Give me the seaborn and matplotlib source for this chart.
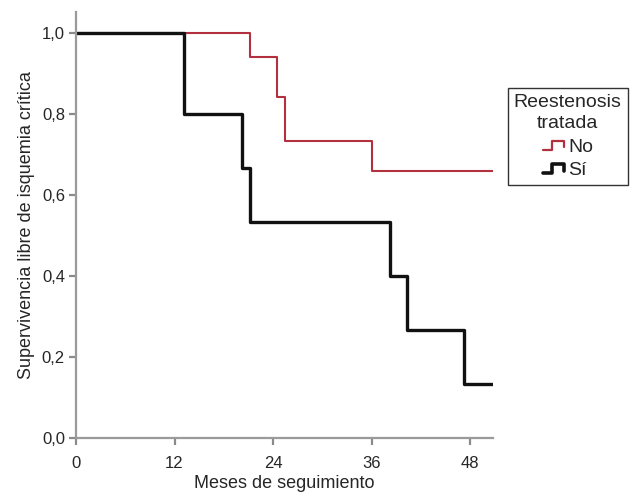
import matplotlib
matplotlib.use('Agg')
import matplotlib.pyplot as plt
from matplotlib.legend_handler import HandlerBase
from matplotlib.lines import Line2D
import seaborn as sns
import pandas as pd

# Kaplan-Meier steps
no_time = [0, 21.2, 24.5, 25.4, 36.1, 50.8]
no_surv = [1.0, 0.941, 0.842, 0.733, 0.659, 0.659]
si_time = [0, 13.2, 20.2, 21.2, 38.3, 40.3, 47.3, 50.8]
si_surv = [1.0, 0.8, 0.667, 0.533, 0.4, 0.267, 0.133, 0.133]
groups = ["No", "Sí"]
x_ticks = [0, 12, 24, 36, 48]
y_ticks = [0.0, 0.2, 0.4, 0.6, 0.8, 1.0]

RED = '#b3303f'
BLACK = '#111111'

sns.set_theme(style='white')
plt.rcParams['font.family'] = ['Liberation Sans', 'DejaVu Sans']

df = pd.concat([
    pd.DataFrame({'t': no_time, 's': no_surv, 'grupo': groups[0]}),
    pd.DataFrame({'t': si_time, 's': si_surv, 'grupo': groups[1]}),
], ignore_index=True)


class StepHandler(HandlerBase):
    """Small step-shaped legend icon, like the SPSS survival legend."""
    def create_artists(self, legend, orig_handle, xd, yd, w, h, fontsize, trans):
        xs = [xd, xd + 0.45 * w, xd + 0.45 * w, xd + w, xd + w]
        ys = [yd + 0.15 * h, yd + 0.15 * h, yd + 0.8 * h, yd + 0.8 * h, yd + 0.35 * h]
        ln = Line2D(xs, ys, color=orig_handle.get_color(),
                    linewidth=orig_handle.get_linewidth(), transform=trans)
        return [ln]


fig = plt.figure(figsize=(6.38, 4.93), dpi=100)
ax = fig.add_axes([76 / 638, 1 - 438 / 493, (493 - 76) / 638, (438 - 12) / 493])

sns.lineplot(data=df, x='t', y='s', hue='grupo', palette={groups[0]: RED, groups[1]: BLACK},
             estimator=None, sort=False, drawstyle='steps-post', ax=ax, legend=False)
ax.lines[0].set_linewidth(1.5)
ax.lines[1].set_linewidth(2.4)

ax.set_xlim(0, 50.8)
ax.set_ylim(0, 1.052)
ax.set_xticks(x_ticks)
ax.set_xticklabels([str(v) for v in x_ticks], fontsize=12)
ax.set_yticks(y_ticks)
ax.set_yticklabels([f'{v:.1f}'.replace('.', ',') for v in y_ticks], fontsize=12)
ax.set_xlabel('Meses de seguimiento', fontsize=13, labelpad=3)
ax.set_ylabel('Supervivencia libre de isquemia crítica', fontsize=13, labelpad=5)

for side in ['top', 'right']:
    ax.spines[side].set_visible(False)
for side in ['left', 'bottom']:
    ax.spines[side].set_color('#9a9a9a')
    ax.spines[side].set_linewidth(1.6)
ax.tick_params(axis='both', which='major', direction='out', length=5, width=1.6,
               color='#8a8a8a', left=True, bottom=True, pad=3)
ax.tick_params(axis='x', pad=8)

handles = [Line2D([], [], color=RED, linewidth=1.6), Line2D([], [], color=BLACK, linewidth=2.6)]
leg = fig.legend(handles, groups, title='Reestenosis\ntratada', loc='upper left',
                 bbox_to_anchor=(508 / 638, 1 - 88 / 493), bbox_transform=fig.transFigure,
                 borderaxespad=0, fontsize=14, title_fontsize=14, frameon=True, fancybox=False,
                 handler_map={Line2D: StepHandler()}, handlelength=1.1, handletextpad=0.2,
                 labelspacing=0.3, borderpad=0.3)
leg.get_frame().set_edgecolor('black')
leg.get_frame().set_linewidth(1.0)
leg._legend_box.align = 'center'
leg.get_title().set_multialignment('center')
leg.get_title().set_linespacing(1.35)

fig.savefig('out.png', dpi=100)
